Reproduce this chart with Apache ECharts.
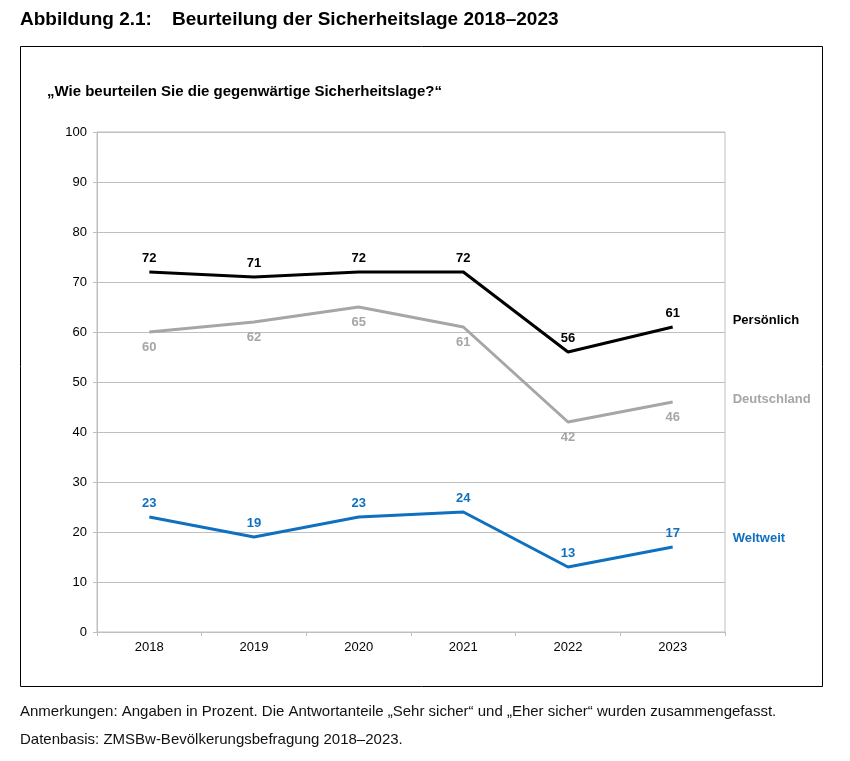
<!DOCTYPE html>
<html>
<head>
<meta charset="utf-8">
<script src="https://cdn.jsdelivr.net/npm/echarts@6/dist/echarts.min.js"></script>
<style>
	html, body { margin: 0; padding: 0; background: #fff; }
	#chart { width: 850px; height: 761px; }
</style>
</head>
<body>
<div id="chart"></div>
<script>
var years = ['2018', '2019', '2020', '2021', '2022', '2023'];
var persoenlich = [72, 71, 72, 72, 56, 61];
var deutschland = [60, 62, 65, 61, 42, 46];
var weltweit = [23, 19, 23, 24, 13, 17];

var font = 'Liberation Sans, Arial, sans-serif';

function lineSeries(name, data, color, pos, dist, endOffset) {
	return {
		name: name,
		type: 'line',
		data: data,
		symbol: 'circle',
		symbolSize: 0,
		lineStyle: { color: color, width: 3 },
		itemStyle: { color: color },
		label: {
			show: true,
			position: pos,
			distance: dist,
			color: color,
			fontFamily: font,
			fontSize: 13,
			fontWeight: 'bold'
		},
		endLabel: {
			show: true,
			formatter: name,
			distance: 60,
			offset: [0, endOffset],
			color: color,
			fontFamily: font,
			fontSize: 13,
			fontWeight: 'bold'
		},
		emphasis: { disabled: true },
		animation: false
	};
}

var chart = echarts.init(document.getElementById('chart'));
chart.setOption({
	backgroundColor: '#fff',
	animation: false,
	title: [{
		text: 'Abbildung 2.1:',
		left: 20,
		top: 10,
		padding: 0,
		textStyle: { fontFamily: font, fontSize: 19, fontWeight: 'bold', color: '#000' }
	}, {
		text: 'Beurteilung der Sicherheitslage 2018–2023',
		left: 172,
		top: 10,
		padding: 0,
		textStyle: { fontFamily: font, fontSize: 19, fontWeight: 'bold', color: '#000' }
	}, {
		text: '„Wie beurteilen Sie die gegenwärtige Sicherheitslage?“',
		left: 47,
		top: 84,
		padding: 0,
		textStyle: { fontFamily: font, fontSize: 15, fontWeight: 'bold', color: '#000' }
	}, {
		text: 'Anmerkungen: Angaben in Prozent. Die Antwortanteile „Sehr sicher“ und „Eher sicher“ wurden zusammengefasst.',
		left: 20,
		top: 704,
		padding: 0,
		textStyle: { fontFamily: font, fontSize: 15, fontWeight: 'normal', color: '#111' }
	}, {
		text: 'Datenbasis: ZMSBw-Bevölkerungsbefragung 2018–2023.',
		left: 20,
		top: 732,
		padding: 0,
		textStyle: { fontFamily: font, fontSize: 15, fontWeight: 'normal', color: '#111' }
	}],
	graphic: [{
		type: 'rect',
		shape: { x: 20.5, y: 46.5, width: 802, height: 640 },
		style: { fill: 'none', stroke: '#000', lineWidth: 1 },
		silent: true
	}],
	grid: {
		left: 97,
		right: 125,
		top: 132,
		bottom: 129,
		show: true,
		borderColor: '#bfbfbf',
		borderWidth: 1
	},
	xAxis: {
		type: 'category',
		data: years,
		boundaryGap: true,
		axisLine: { lineStyle: { color: '#bfbfbf', width: 1 } },
		axisTick: { show: true, length: 4, lineStyle: { color: '#bfbfbf' } },
		axisLabel: { color: '#000', fontFamily: font, fontSize: 13, margin: 9 }
	},
	yAxis: {
		type: 'value',
		min: 0,
		max: 100,
		interval: 10,
		axisLine: { show: true, lineStyle: { color: '#bfbfbf', width: 1 } },
		axisTick: { show: true, length: 4, lineStyle: { color: '#bfbfbf' } },
		axisLabel: { color: '#000', fontFamily: font, fontSize: 13, margin: 10 },
		splitLine: { show: true, lineStyle: { color: '#bfbfbf', width: 1 } }
	},
	series: [
		lineSeries('Persönlich', persoenlich, '#000000', 'top', 7, -7),
		lineSeries('Deutschland', deutschland, '#a6a6a6', 'bottom', 9, -3),
		lineSeries('Weltweit', weltweit, '#1070c0', 'top', 7, -9)
	]
});
</script>
</body>
</html>
